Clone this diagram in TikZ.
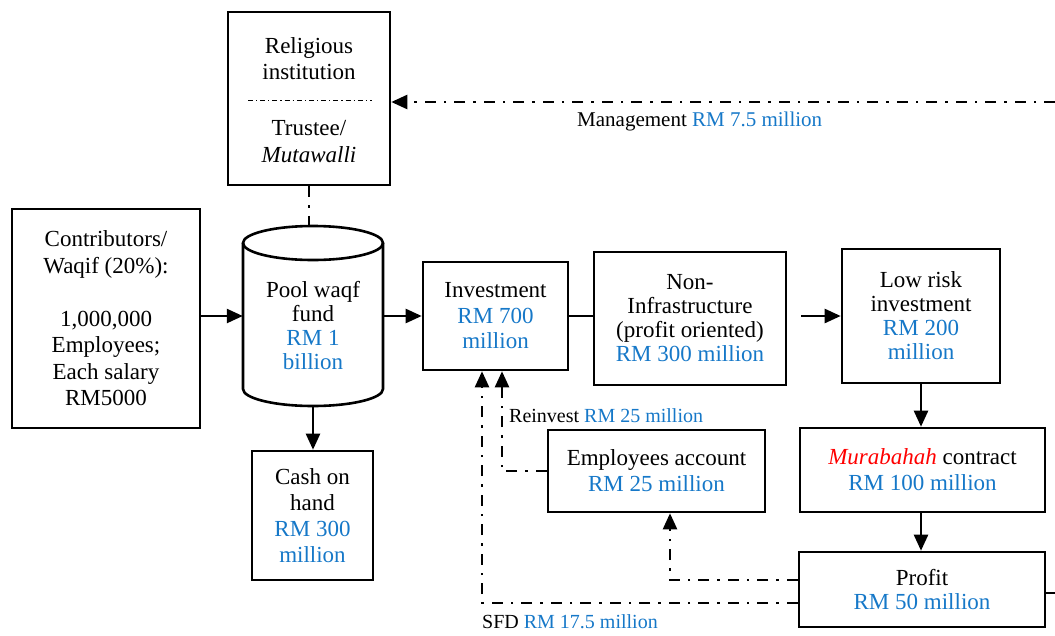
\documentclass[tikz,border=0pt]{standalone}
\usepackage{fontspec}
\setmainfont{Liberation Serif}
\usetikzlibrary{arrows.meta}
\definecolor{rmblue}{RGB}{22,120,200}
\newcommand{\blu}[1]{\textcolor{rmblue}{#1}}
\begin{document}
\begin{tikzpicture}[x=1pt,y=-1pt,
  box/.style={draw, line width=2.6pt, align=center, inner sep=0pt, font=\fontsize{23}{25.5}\selectfont},
  txt/.style={align=center, inner sep=0pt, font=\fontsize{23}{26.5}\selectfont},
  lbl/.style={inner sep=0pt, font=\fontsize{20}{24}\selectfont},
  arr/.style={-{Triangle[length=16pt,width=14pt]}},
  solidc/.style={line width=2.4pt},
  dd/.style={line width=2.4pt, dash pattern=on 11pt off 8pt on 2.5pt off 8pt},
  sep/.style={line width=1pt, dash pattern=on 5pt off 3pt on 1.2pt off 3pt}]
\useasboundingbox (0,0) rectangle (1055,635);

% Religious institution / Trustee
\node[box, minimum width=162pt, minimum height=173pt] (rel) at (309,98.5) {};
\node[txt] (reltop) at (309,58.5) {Religious\\institution};
\draw[sep] (248,100) -- (372,100);
\node[txt] (relbot) at (309,141.5) {Trustee/\\\textit{Mutawalli}};

% Contributors
\node[box, font=\fontsize{23}{26.5}\selectfont, minimum width=188pt, minimum height=219pt] (contrib) at (106,318.5)
  {Contributors/\\Waqif (20\%):\\\mbox{}\\1,000,000\\Employees;\\Each salary\\RM5000};

% Pool waqf fund (cylinder)
\draw[line width=2.6pt] (243,243) -- (243,389) arc[start angle=180, end angle=0, x radius=70, y radius=17] -- (383,243);
\draw[line width=2.6pt] (313,243) ellipse [x radius=70, y radius=17];
\node[minimum width=140pt, minimum height=180pt, inner sep=0pt] (pool) at (313,316) {};
\node[txt, font=\fontsize{23}{24}\selectfont] (pooltxt) at (313,326) {Pool waqf\\fund\\\blu{RM 1}\\\blu{billion}};

% Other boxes
\node[box, minimum width=145pt, minimum height=108pt] (inv) at (495.5,316) {Investment\\\blu{RM 700}\\\blu{million}};
\node[box, font=\fontsize{23}{24}\selectfont, minimum width=192pt, minimum height=133pt] (noninfra) at (690,318.5) {Non-\\Infrastructure\\(profit oriented)\\\blu{RM 300 million}};
\node[box, font=\fontsize{23}{24}\selectfont, minimum width=158pt, minimum height=134pt] (lowrisk) at (921,316) {Low risk\\investment\\\blu{RM 200}\\\blu{million}};
\node[box, font=\fontsize{23}{26}\selectfont, minimum width=121pt, minimum height=129pt] (cash) at (312.5,515.5) {Cash on\\hand\\\blu{RM 300}\\\blu{million}};
\node[box, font=\fontsize{23}{26}\selectfont, minimum width=217pt, minimum height=82pt] (emp) at (656.5,471) {Employees account\\\blu{RM 25 million}};
\node[box, font=\fontsize{23}{26}\selectfont, minimum width=245pt, minimum height=84pt] (murab) at (922.5,470) {\textcolor{red}{\textit{Murabahah}} contract\\\blu{RM 100 million}};
\node[box, font=\fontsize{23}{24}\selectfont, minimum width=246pt, minimum height=75pt] (profit) at (922,589.5) {Profit\\\blu{RM 50 million}};

% Labels
\node[lbl, anchor=west, font=\fontsize{21}{24}\selectfont] (mgmt) at (577,121) {Management \blu{RM 7.5 million}};
\node[lbl, anchor=west] (reinv) at (509,416) {Reinvest \blu{RM 25 million}};
\node[lbl, anchor=west] (sfd) at (482,622) {SFD \blu{RM 17.5 million}};

% Solid connectors
\draw[solidc,arr] (contrib.east|-inv.west) -- (pool.west|-inv.west);
\draw[solidc,arr] (pool.east|-inv.west) -- (inv.west);
\draw[solidc] (inv.east) -- (inv.east-|noninfra.west);
\coordinate (nxr) at ([xshift=14pt]noninfra.east);
\draw[solidc,arr] (nxr|-inv.east) -- (lowrisk.west|-inv.east);
\draw[solidc,arr] (lowrisk.south) -- (lowrisk.south|-murab.north);
\draw[solidc,arr] (murab.south-|lowrisk.south) -- (profit.north-|lowrisk.south);
\draw[solidc,arr] (pool.south) -- (pool.south|-cash.north);
\coordinate (pR) at (1055,593);
\draw[solidc] (profit.east|-pR) -- (pR);

% Dash-dot connectors
\coordinate (mR) at (1055,102);
\draw[dd,arr] (mR) -- (mR-|rel.east);
\draw[dd] (rel.south) -- (rel.south|-pool.north);
\draw[dd,arr] (emp.west) -| ([xshift=6.5pt]inv.south);
\draw[dd,arr] ([yshift=9.5pt]profit.west) -| ([xshift=13.5pt]emp.south);
\draw[dd,arr] ([yshift=-13.5pt]profit.west) -| ([xshift=-13.5pt]inv.south);
\end{tikzpicture}
\end{document}
